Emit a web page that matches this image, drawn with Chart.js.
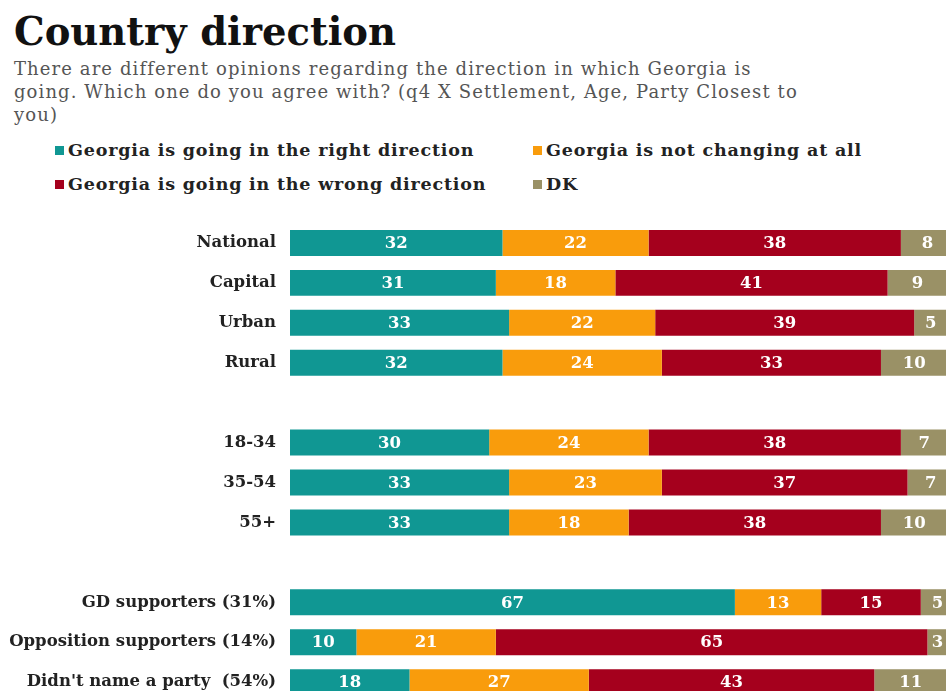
<!DOCTYPE html>
<html>
<head>
<meta charset="utf-8">
<script src="https://cdn.jsdelivr.net/npm/chart.js@4"></script>
<style>
  html, body { margin: 0; padding: 0; background: #fff; overflow: hidden; width: 946px; height: 691px; }
  #titulo { position: absolute; left: 14px; top: 9px; font: bold 38.5px "DejaVu Serif", serif; color: #111; white-space: nowrap; }
  #sub { position: absolute; left: 14px; top: 57px; font: 18px/23px "DejaVu Serif", serif; letter-spacing: 1.1px; color: #555; white-space: nowrap; }
  .leg { position: absolute; font: bold 17.5px "DejaVu Serif", serif; letter-spacing: 0.8px; color: #222; white-space: nowrap; }
  .leg i { display: inline-block; width: 9px; height: 9px; margin-right: 4px; vertical-align: 1px; }
  #graficoDirecao { position: absolute; left: 0; top: 0; }
</style>
</head>
<body>
<div id="titulo">Country direction</div>
<div id="sub">There are different opinions regarding the direction in which Georgia is<br>going. Which one do you agree with? (q4 X Settlement, Age, Party Closest to<br>you)</div>
<div id="legenda"></div>
<canvas id="graficoDirecao" width="962" height="718"></canvas>
<script>
const categorias = ['National', 'Capital', 'Urban', 'Rural', '', '18-34', '35-54', '55+', '', 'GD supporters (31%)', 'Opposition supporters (14%)', "Didn't name a party  (54%)"];
const certo      = [32, 31, 33, 32, null, 30, 33, 33, null, 67, 10, 18];
const naoMuda    = [22, 18, 22, 24, null, 24, 23, 18, null, 13, 21, 27];
const errado     = [38, 41, 39, 33, null, 38, 37, 38, null, 15, 65, 43];
const naoSabe    = [8, 9, 5, 10, null, 7, 7, 10, null, 5, 3, 11];

const series = [
  { label: 'Georgia is going in the right direction', data: certo, cor: '#109793' },
  { label: 'Georgia is not changing at all', data: naoMuda, cor: '#f99c0c' },
  { label: 'Georgia is going in the wrong direction', data: errado, cor: '#a5001d' },
  { label: 'DK', data: naoSabe, cor: '#9a9166' }
];

// legenda em duas colunas, como no original
const posLegenda = [[55, 140], [533, 140], [55, 174], [533, 174]];
const legenda = document.querySelector('#legenda');
series.forEach((s, i) => {
  const el = document.createElement('div');
  el.className = 'leg';
  el.style.left = posLegenda[i][0] + 'px';
  el.style.top = posLegenda[i][1] + 'px';
  el.innerHTML = `<i style="background:${s.cor}"></i>${s.label}`;
  legenda.appendChild(el);
});

const rotulos = {
  id: 'rotulos',
  afterDatasetsDraw(grafico) {
    const ctx = grafico.ctx;
    ctx.save();
    ctx.font = 'bold 16.5px "DejaVu Serif", serif';
    ctx.fillStyle = '#fff';
    ctx.textAlign = 'center';
    ctx.textBaseline = 'middle';
    grafico.data.datasets.forEach((dataset, i) => {
      const meta = grafico.getDatasetMeta(i);
      meta.data.forEach((barra, j) => {
        const valor = dataset.data[j];
        if (valor == null) return;
        const p = barra.getCenterPoint();
        ctx.fillText(valor, p.x, p.y + 1);
      });
    });
    ctx.restore();
  }
};

const graficoDirecao = new Chart(document.querySelector('#graficoDirecao'), {
  type: 'bar',
  data: {
    labels: categorias,
    datasets: series.map(s => ({
      label: s.label,
      data: s.data,
      backgroundColor: s.cor,
      borderWidth: 0,
      barPercentage: 0.65,
      categoryPercentage: 1
    }))
  },
  options: {
    indexAxis: 'y',
    responsive: false,
    animation: false,
    devicePixelRatio: 1,
    layout: { padding: { top: 223, bottom: 4, left: 0, right: 8 } },
    plugins: {
      legend: { display: false },
      tooltip: { enabled: false }
    },
    scales: {
      x: { stacked: true, min: 0, max: 100, display: false },
      y: {
        stacked: true,
        grid: { display: false },
        border: { display: false },
        afterFit(escala) { escala.width = 290; },
        ticks: {
          padding: 6,
          color: '#222',
          font: { family: '"DejaVu Serif", serif', weight: 'bold', size: 16.5 }
        }
      }
    }
  },
  plugins: [rotulos]
});
</script>
</body>
</html>
